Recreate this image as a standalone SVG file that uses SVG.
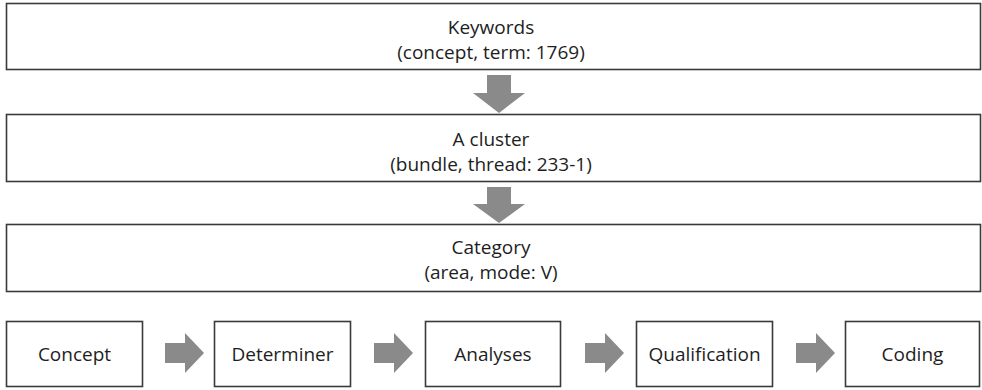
<svg xmlns="http://www.w3.org/2000/svg" width="982" height="390" viewBox="0 0 982 390">
  <style>
    .box { fill: #ffffff; stroke: #3a3a3a; stroke-width: 1.6; }
    .lbl { font-family: "Open Sans", "Liberation Sans", sans-serif; font-size: 19px; fill: #1e1e1e; text-anchor: middle; }
    .arrow { fill: #8a8a8a; }
  </style>
  <rect width="982" height="390" fill="#ffffff"/>

  <!-- stacked levels -->
  <g id="keywords">
    <rect class="box" x="6.5" y="3.5" width="974" height="66"/>
    <text class="lbl" x="491" y="34">Keywords</text>
    <text class="lbl" x="491" y="59">(concept, term: 1769)</text>
  </g>
  <g id="cluster">
    <rect class="box" x="6.5" y="114.5" width="974" height="67"/>
    <text class="lbl" x="491" y="146">A cluster</text>
    <text class="lbl" x="491" y="171">(bundle, thread: 233-1)</text>
  </g>
  <g id="category">
    <rect class="box" x="6.5" y="224.5" width="974" height="67"/>
    <text class="lbl" x="491" y="254">Category</text>
    <text class="lbl" x="491" y="279">(area, mode: V)</text>
  </g>

  <!-- process steps -->
  <g id="concept">
    <rect class="box" x="6.5" y="321.5" width="136" height="65"/>
    <text class="lbl" x="74.5" y="361">Concept</text>
  </g>
  <g id="determiner">
    <rect class="box" x="214.5" y="321.5" width="136" height="65"/>
    <text class="lbl" x="282.5" y="361">Determiner</text>
  </g>
  <g id="analyses">
    <rect class="box" x="425.5" y="321.5" width="135" height="65"/>
    <text class="lbl" x="493" y="361">Analyses</text>
  </g>
  <g id="qualification">
    <rect class="box" x="636.5" y="321.5" width="136" height="65"/>
    <text class="lbl" x="704.5" y="361">Qualification</text>
  </g>
  <g id="coding">
    <rect class="box" x="845.5" y="321.5" width="134" height="65"/>
    <text class="lbl" x="912.5" y="361">Coding</text>
  </g>

  <!-- block arrows -->
  <g id="connectors">
    <polygon class="arrow" points="487,75 511,75 511,93 525,93 499,113 473,93 487,93"/>
    <polygon class="arrow" points="487,187 511,187 511,204 525,204 499,223 473,204 487,204"/>
    <polygon class="arrow" points="165,343 185,343 185,333 204,353 185,373 185,363 165,363"/>
    <polygon class="arrow" points="374,343 394,343 394,333 413,353 394,373 394,363 374,363"/>
    <polygon class="arrow" points="585,343 605,343 605,333 624,353 605,373 605,363 585,363"/>
    <polygon class="arrow" points="796,343 816,343 816,333 835,353 816,373 816,363 796,363"/>
  </g>
</svg>
